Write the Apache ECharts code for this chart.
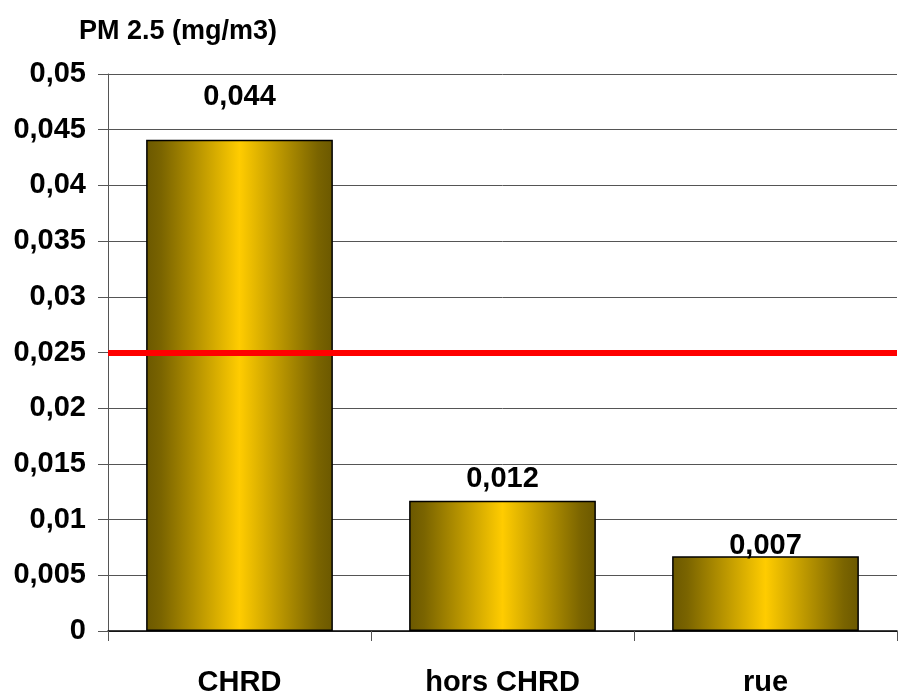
<!DOCTYPE html>
<html><head><meta charset="utf-8">
<script src="https://cdn.jsdelivr.net/npm/echarts@6/dist/echarts.min.js"></script>
<style>html,body{margin:0;padding:0;background:#fff}#c{width:899px;height:692px}</style>
</head><body><div id="c"></div>
<script>
const categories = ['CHRD', 'hors CHRD', 'rue'];
const values = [0.0441, 0.0117, 0.0067];
const valueLabels = ['0,044', '0,012', '0,007'];
const limitValue = 0.025;
const yTicks = [0, 0.005, 0.01, 0.015, 0.02, 0.025, 0.03, 0.035, 0.04, 0.045, 0.05];
const yTickLabels = ['0', '0,005', '0,01', '0,015', '0,02', '0,025', '0,03', '0,035', '0,04', '0,045', '0,05'];
const labelDistances = [28, 7, -4];

const FONT = '"Liberation Sans", Arial, sans-serif';
const chart = echarts.init(document.getElementById('c'), null, {renderer: 'canvas'});
const grad = new echarts.graphic.LinearGradient(0, 0, 1, 0, [
  {offset: 0, color: '#6b5800'},
  {offset: 0.08, color: '#7a6400'},
  {offset: 0.5, color: '#ffcc00'},
  {offset: 0.92, color: '#7a6400'},
  {offset: 1, color: '#6b5800'}
]);
function fmtY(v) {
  const i = yTicks.findIndex(t => Math.abs(t - v) < 1e-9);
  return i >= 0 ? yTickLabels[i] : '';
}
chart.setOption({
  animation: false,
  title: {
    text: 'PM 2.5 (mg/m3)', left: 74, top: 13,
    textStyle: {fontFamily: FONT, fontWeight: 'bold', fontSize: 27, color: '#000'}
  },
  grid: {left: 108, right: 2, top: 74, bottom: 61, containLabel: false, outerBoundsMode: 'none'},
  xAxis: {
    type: 'category', data: categories,
    axisLine: {show: true, lineStyle: {color: '#000', width: 1.5}},
    axisTick: {show: true, length: 10, lineStyle: {color: '#555'}},
    axisLabel: {margin: 37, fontFamily: FONT, fontWeight: 'bold', fontSize: 29, color: '#000'}
  },
  yAxis: {
    type: 'value', min: 0, max: 0.05, interval: 0.005,
    axisLine: {show: true, lineStyle: {color: '#555', width: 1}},
    axisTick: {show: true, length: 10, lineStyle: {color: '#555'}},
    splitLine: {show: true, lineStyle: {color: '#555', width: 1}},
    axisLabel: {margin: 22, formatter: fmtY, fontFamily: FONT, fontWeight: 'bold', fontSize: 29, color: '#000'}
  },
  series: [{
    type: 'bar',
    barCategoryGap: '29%',
    data: values.map((v, i) => ({
      value: v,
      label: {show: true, position: 'top', distance: labelDistances[i], formatter: valueLabels[i]}
    })),
    itemStyle: {color: grad, borderColor: '#000', borderWidth: 1.5},
    label: {fontFamily: FONT, fontWeight: 'bold', fontSize: 29, color: '#000'},
    markLine: {
      silent: true, symbol: ['none', 'none'], precision: 6,
      label: {show: false},
      lineStyle: {color: '#ff0000', width: 6, type: 'solid'},
      data: [{yAxis: limitValue}]
    }
  }]
});
</script></body></html>
